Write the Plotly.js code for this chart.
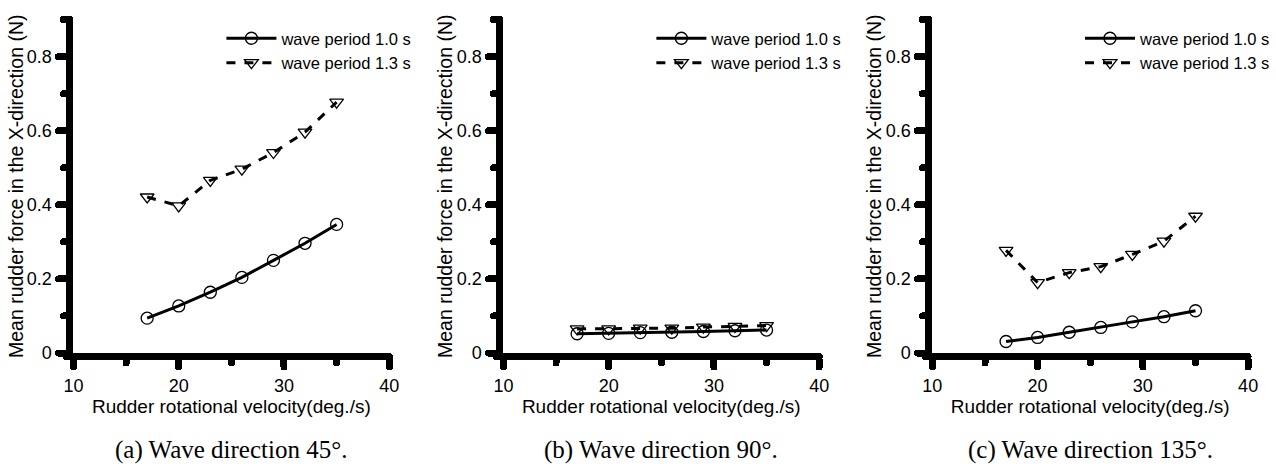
<!DOCTYPE html>
<html><head><meta charset="utf-8">
<script src="https://cdn.plot.ly/plotly-3.0.1.min.js"></script>
<style>
html,body{margin:0;padding:0;background:#fff;overflow:hidden}
#chart{width:1276px;height:468px}
path.ticks{stroke-linecap:round}
path.xlines-above,path.ylines-above{stroke-linecap:round}
</style>
</head><body><div id="chart"></div>
<script>
// ---- data ----
const velocity = [17, 20, 23, 26, 29, 32, 35];
const dir45_T10  = [0.094, 0.127, 0.164, 0.204, 0.250, 0.296, 0.347];
const dir45_T13  = [0.421, 0.397, 0.466, 0.496, 0.541, 0.596, 0.677];
const dir90_T10  = [0.052, 0.053, 0.055, 0.056, 0.058, 0.060, 0.062];
const dir90_T13  = [0.065, 0.065, 0.067, 0.067, 0.070, 0.072, 0.074];
const dir135_T10 = [0.031, 0.042, 0.056, 0.069, 0.084, 0.098, 0.114];
const dir135_T13 = [0.277, 0.190, 0.217, 0.233, 0.266, 0.302, 0.369];
const seriesNames = ['wave period 1.0 s', 'wave period 1.3 s'];
const captions = ['(a) Wave direction 45°.', '(b) Wave direction 90°.', '(c) Wave direction 135°.'];
const xTitle = 'Rudder rotational velocity(deg./s)';
const yTitle = 'Mean rudder force in the X-direction (N)';
const panels = [[dir45_T10, dir45_T13], [dir90_T10, dir90_T13], [dir135_T10, dir135_T13]];

// ---- layout geometry ----
const W = 1276, H = 468;
const xPix = [[74, 392], [507, 825], [939, 1257]];
const yDom = [1 - 353 / H, 1 - 19.5 / H];
const FONT = '"Liberation Sans", Arial, sans-serif';

const traces = [];
const layout = {
  width: W, height: H,
  margin: {l: 0, r: 0, t: 0, b: 0, pad: 0},
  paper_bgcolor: '#fff', plot_bgcolor: '#fff',
  font: {family: FONT, color: '#000'},
  showlegend: true,
  annotations: []
};

panels.forEach((pair, i) => {
  const sfx = i === 0 ? '' : String(i + 1);
  const legName = 'legend' + sfx;
  pair.forEach((vals, k) => {
    traces.push({
      type: 'scatter', mode: 'lines+markers',
      x: velocity, y: vals,
      xaxis: 'x' + sfx, yaxis: 'y' + sfx,
      name: seriesNames[k], legend: legName, legendgroup: 'g' + k,
      line: {color: '#000', width: 3, dash: k === 0 ? 'solid' : 'dash'},
      marker: {symbol: k === 0 ? 'circle-open' : 'triangle-down-open', size: 12,
               color: '#000', line: {color: '#000', width: 1.3}},
      cliponaxis: false
    });
  });
  const dom = [xPix[i][0] / W, xPix[i][1] / W];
  layout['xaxis' + sfx] = {
    domain: dom, range: [10, 40], anchor: 'y' + sfx,
    showline: true, linewidth: 7, linecolor: '#000',
    ticks: 'outside', ticklen: 7, tickwidth: 7, tickcolor: '#000',
    tick0: 10, dtick: 10, ticklabelstandoff: 3,
    minor: {ticks: 'outside', ticklen: 3, tickwidth: 7, tickcolor: '#000', tick0: 10, dtick: 5, showgrid: false},
    showgrid: false, zeroline: false,
    tickfont: {family: FONT, size: 18, color: '#000'},
    title: {text: xTitle, font: {family: FONT, size: 19, color: '#000'}, standoff: 6},
    fixedrange: true
  };
  layout['yaxis' + sfx] = {
    domain: yDom, range: [0, 0.9], anchor: 'x' + sfx,
    showline: true, linewidth: 7, linecolor: '#000',
    ticks: 'outside', ticklen: 8, tickwidth: 7, tickcolor: '#000',
    tick0: 0, dtick: 0.2, ticklabelstandoff: 3,
    minor: {ticks: 'outside', ticklen: 3, tickwidth: 7, tickcolor: '#000', tick0: 0, dtick: 0.1, showgrid: false},
    showgrid: false, zeroline: false,
    tickfont: {family: FONT, size: 18, color: '#000'},
    title: {text: yTitle, font: {family: FONT, size: 19.5, color: '#000'}, standoff: 1},
    fixedrange: true
  };
  layout[legName] = {
    x: (xPix[i][0] + 149) / W, y: 1 - 21 / H, xanchor: 'left', yanchor: 'top',
    bgcolor: 'rgba(0,0,0,0)', borderwidth: 0,
    font: {family: FONT, size: 16.5, color: '#000'},
    itemwidth: 50, tracegroupgap: 0, traceorder: 'grouped'
  };
  layout.annotations.push({
    xref: 'paper', yref: 'paper',
    x: (xPix[i][0] + xPix[i][1]) / 2 / W, y: 1 - 450 / H,
    xanchor: 'center', yanchor: 'middle', showarrow: false,
    text: captions[i],
    font: {family: '"Liberation Serif", "Times New Roman", serif', size: 25, color: '#000'}
  });
});

Plotly.newPlot('chart', traces, layout, {staticPlot: true, displayModeBar: false});
</script>
</body></html>
